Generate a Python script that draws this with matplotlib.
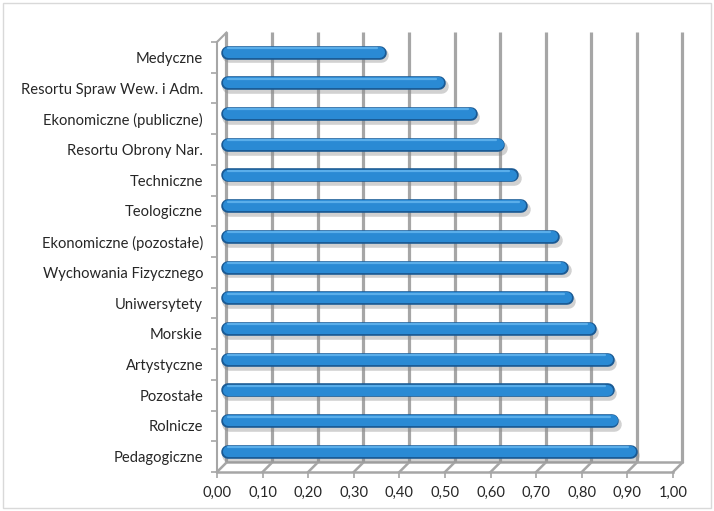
import matplotlib
matplotlib.use("Agg")
import matplotlib.pyplot as plt
import numpy as np
from matplotlib.patches import Rectangle

# Data (top to bottom as in the chart)
categories = [
    "Medyczne", "Resortu Spraw Wew. i Adm.", "Ekonomiczne (publiczne)",
    "Resortu Obrony Nar.", "Techniczne", "Teologiczne",
    "Ekonomiczne (pozostałe)", "Wychowania Fizycznego", "Uniwersytety",
    "Morskie", "Artystyczne", "Pozostałe", "Rolnicze", "Pedagogiczne",
]
values = [0.36, 0.49, 0.56, 0.62, 0.65, 0.67, 0.74, 0.76, 0.77,
          0.82, 0.86, 0.86, 0.87, 0.91]
x_ticks = np.arange(0, 1.01, 0.1)
x_ticklabels = [f"{t:.2f}".replace(".", ",") for t in x_ticks]

plt.rcParams["font.family"] = ["Lato", "DejaVu Sans"]

fig = plt.figure(figsize=(7.14, 5.11), dpi=100)
ax = fig.add_axes([217 / 714, 39 / 511, 456 / 714, 430 / 511])

n = len(categories)
y = np.arange(n)
ax.set_xlim(0, 1)
ax.set_ylim(n - 0.5, -0.5)

# pseudo-3D depth offset (data units)
dx = 9.5 / 456
dy = 9.5 / 30.7
grid_col = "#a6a6a6"
y_bot, y_top = n - 0.5, -0.5

# back wall gridlines
for t in x_ticks:
    ax.plot([t + dx, t + dx], [y_bot - dy, y_top - dy], color=grid_col,
            lw=2.3, clip_on=False, zorder=1, solid_capstyle="butt")
    # floor diagonals
    ax.plot([t, t + dx], [y_bot, y_bot - dy], color=grid_col, lw=1.8,
            clip_on=False, zorder=1)
# floor edges
ax.plot([0, 1], [y_bot, y_bot], color=grid_col, lw=1.8, clip_on=False, zorder=1)
ax.plot([dx, 1 + dx], [y_bot - dy, y_bot - dy], color=grid_col, lw=1.8,
        clip_on=False, zorder=1)
# left front axis line and top diagonal
ax.plot([0, 0], [y_bot, y_top], color=grid_col, lw=1.5, clip_on=False, zorder=1)
ax.plot([0, dx], [y_top, y_top - dy], color=grid_col, lw=1.5, clip_on=False, zorder=1)

# cylinder-like bars at half depth
yb = y - dy / 2
x0 = dx / 2
cap = 6.0 / 456
ends = np.array(values) + x0 - cap
ax.hlines(yb + 0.09, x0 + cap + 0.003, ends + 0.003,
          color="#8c8c8c", lw=10.5, alpha=0.4, capstyle="round", zorder=2)
ax.hlines(yb, x0 + cap, ends,
          color="#1a5a94", lw=9.8, capstyle="round", zorder=3)
ax.hlines(yb - 0.03, x0 + cap, ends - 0.002,
          color="#2a8ad4", lw=8.0, capstyle="round", zorder=4)
ax.hlines(yb - 0.15, x0 + cap, ends - 0.006,
          color="#5aaeea", lw=1.6, capstyle="round", zorder=5)

# ticks and labels
ax.set_yticks(y)
ax.set_yticklabels(categories, fontsize=10.6, color="#262626")
ax.set_yticks(np.arange(-0.5, n), minor=True)
ax.tick_params(axis="y", which="major", length=0, pad=10)
ax.tick_params(axis="y", which="minor", length=4, color=grid_col, width=1.2)
ax.set_xticks(x_ticks)
ax.set_xticklabels(x_ticklabels, fontsize=10.6, color="#262626")
ax.tick_params(axis="x", length=4, color=grid_col, width=1.2, pad=6)

for s in ax.spines.values():
    s.set_visible(False)
ax.patch.set_visible(False)

# chart area border
fig.patches.append(Rectangle((3 / 714, 3 / 511), 708 / 714, 505 / 511,
                             transform=fig.transFigure, fill=False,
                             edgecolor="#d9d9d9", lw=1))

fig.savefig("out.png", dpi=100)
